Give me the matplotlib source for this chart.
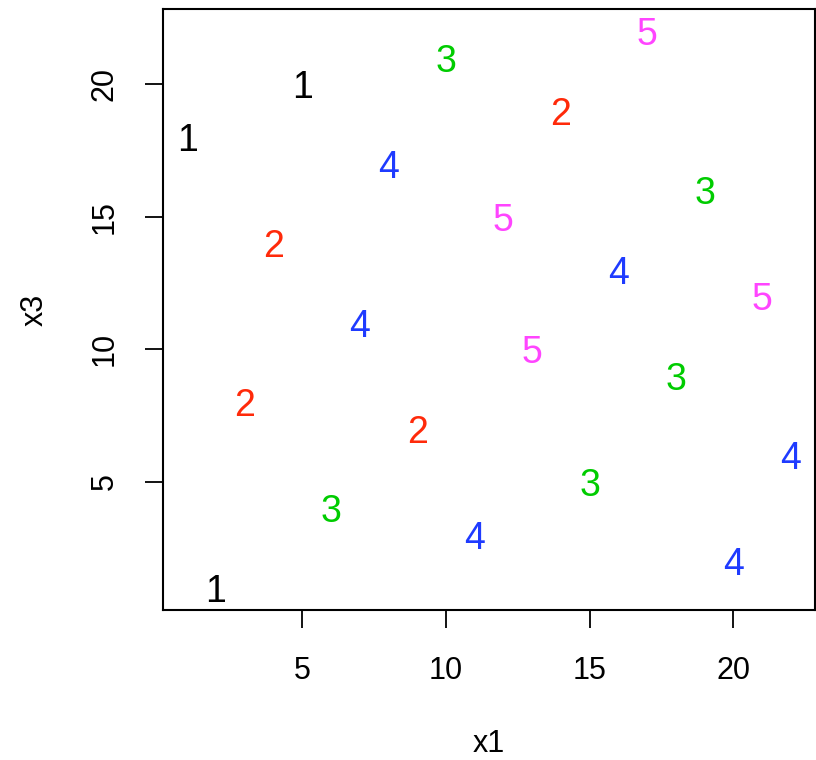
import matplotlib
matplotlib.use("Agg")
import matplotlib.pyplot as plt

plt.rcParams['font.family'] = ['Liberation Sans', 'DejaVu Sans']

# group label, x1, x3 for each point
groups = [1, 1, 1,
          2, 2, 2, 2,
          3, 3, 3, 3, 3,
          4, 4, 4, 4, 4, 4,
          5, 5, 5, 5]
x1 = [1, 5, 2,
      4, 3, 9, 14,
      10, 6, 15, 18, 19,
      8, 7, 11, 16, 20, 22,
      17, 12, 13, 21]
x3 = [18, 20, 1,
      14, 8, 7, 19,
      21, 4, 5, 9, 16,
      17, 11, 3, 13, 2, 6,
      22, 15, 10, 12]

palette = {1: '#000000', 2: '#FF2A0A', 3: '#00CC00', 4: '#1F3BFF', 5: '#FF45FF'}

fig = plt.figure(figsize=(8.16, 7.6), dpi=100)
ax = fig.add_axes([163 / 816, 150 / 760, 652 / 816, 601 / 760])

for g, xv, yv in zip(groups, x1, x3):
    ax.text(xv, yv, str(g), color=palette[g], fontsize=27,
            ha='center', va='center_baseline')

# R-style 4% padding around the data range
def padded(vals):
    lo, hi = min(vals), max(vals)
    d = (hi - lo) * 0.04
    return lo - d, hi + d

ax.set_xlim(*padded(x1))
ax.set_ylim(*padded(x3))

ax.set_xticks([5, 10, 15, 20])
ax.set_yticks([5, 10, 15, 20])
ax.tick_params(axis='x', length=13, width=1.3, pad=20, labelsize=22)
ax.tick_params(axis='y', length=13, width=1.3, pad=18, labelsize=22)
for lab in ax.get_yticklabels():
    lab.set_rotation(90)
    lab.set_va('center')

for s in ax.spines.values():
    s.set_linewidth(1.5)

ax.set_xlabel('x1', fontsize=22, labelpad=31)
ax.set_ylabel('x3', fontsize=22, labelpad=29)

fig.savefig('out.png', dpi=100)
